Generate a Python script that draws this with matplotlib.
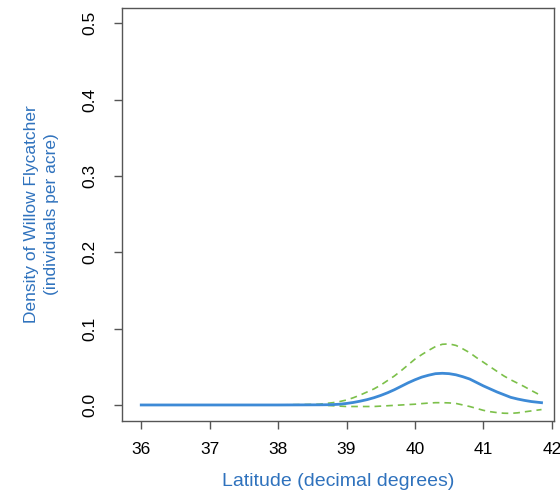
import matplotlib.pyplot as plt
import numpy as np

plt.rcParams['font.family'] = ['Liberation Sans', 'DejaVu Sans']

# latitude grid
lat = [36.0, 38.0, 38.6, 38.7, 38.8, 38.9, 39.0, 39.1, 39.2, 39.3, 39.4,
       39.5, 39.6, 39.7, 39.8, 39.9, 40.0, 40.1, 40.2, 40.3, 40.4, 40.5,
       40.6, 40.7, 40.8, 40.9, 41.0, 41.1, 41.2, 41.3, 41.4, 41.5, 41.6,
       41.7, 41.85]
# fitted density
fit = [0.0, 0.0, 0.0002, 0.0003, 0.0005, 0.001, 0.002, 0.0033, 0.005, 0.007,
       0.0095, 0.0125, 0.016, 0.020, 0.0245, 0.029, 0.033, 0.0365, 0.039,
       0.041, 0.0415, 0.041, 0.0395, 0.037, 0.034, 0.0295, 0.025, 0.021,
       0.017, 0.0135, 0.010, 0.0078, 0.006, 0.0045, 0.003]
# upper / lower bands
upper = [0.0, 0.0, 0.001, 0.002, 0.003, 0.0045, 0.0065, 0.0095, 0.013,
         0.017, 0.021, 0.026, 0.032, 0.038, 0.045, 0.0525, 0.060, 0.066,
         0.0715, 0.0765, 0.0795, 0.080, 0.078, 0.0735, 0.0685, 0.062, 0.056,
         0.050, 0.044, 0.038, 0.033, 0.0285, 0.024, 0.019, 0.012]
lower = [0.0, 0.0, 0.0, -0.0005, -0.001, -0.0015, -0.002, -0.002, -0.002,
         -0.002, -0.002, -0.0015, -0.001, -0.0005, 0.0, 0.0005, 0.001, 0.0018,
         0.0025, 0.003, 0.003, 0.0027, 0.002, 0.0, -0.002, -0.0045, -0.007,
         -0.0088, -0.010, -0.0108, -0.011, -0.0103, -0.009, -0.0078, -0.006]

xticks = [36, 37, 38, 39, 40, 41, 42]
yticks = [0.0, 0.1, 0.2, 0.3, 0.4, 0.5]

blue = '#3d8ad6'
green = '#7cc04a'
label_col = '#2f72bd'

fig = plt.figure(figsize=(5.6, 4.98), dpi=100)
ax = fig.add_axes([0.218, 0.1546, 0.771, 0.8294])

ax.plot(lat, upper, color=green, lw=1.2, ls=(0, (4, 3)))
ax.plot(lat, lower, color=green, lw=1.2, ls=(0, (4, 3)))
ax.plot(lat, fit, color=blue, lw=2.0)

ax.set_xlim(35.72, 42.03)
ax.set_ylim(-0.021, 0.52)
ax.set_xticks(xticks)
ax.set_xticklabels([str(t) for t in xticks])
ax.set_yticks(yticks)
ax.set_yticklabels(['%.1f' % t for t in yticks])

for s in ax.spines.values():
    s.set_color('#555555')
    s.set_linewidth(1.0)
ax.tick_params(direction='out', length=6, width=1.0, color='#555555',
               labelsize=12.5, pad=9)
ax.tick_params(axis='y', labelrotation=90, pad=12)
for t in ax.get_yticklabels():
    t.set_va('center')

ax.set_xlabel('Latitude (decimal degrees)', color=label_col, fontsize=14)
ax.xaxis.set_label_coords(0.5, -0.125)
ax.set_ylabel('Density of Willow Flycatcher\n(individuals per acre)',
              color=label_col, fontsize=12.5, linespacing=1.45)
ax.yaxis.set_label_coords(-0.145, 0.5)

fig.savefig('out.png', dpi=100)
